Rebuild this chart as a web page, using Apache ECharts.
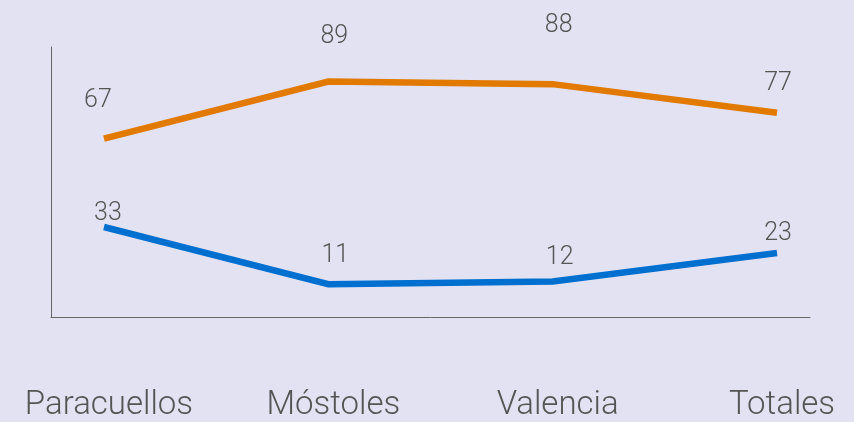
<!DOCTYPE html>
<html>
<head>
<meta charset="utf-8">
<script src="https://cdn.jsdelivr.net/npm/echarts@6/dist/echarts.min.js"></script>
<style>
  html, body { margin: 0; padding: 0; background: #e2e2f2; }
  #chart { width: 854px; height: 422px; }
</style>
</head>
<body>
<div id="chart"></div>
<script>
const categories = ['Paracuellos', 'Móstoles', 'Valencia', 'Totales']
const orangeValues = [67, 89, 88, 77]
const blueValues = [33, 11, 12, 23]

// where each value label sits relative to its point (px)
const orangeLabelOffsets = [[-6, -38], [6, -45], [6, -58], [1, -29]]
const blueLabelOffsets = [[4, -13], [7, -28], [7, -24], [1, -19]]

const font = 'Roboto, "Liberation Sans", sans-serif'

function buildData(values, offsets) {
    return values.map((v, i) => ({
        value: [i, v],
        label: { offset: offsets[i] }
    }))
}

function lineSeries(values, offsets, color) {
    return {
        type: 'line',
        symbol: 'circle',
        symbolSize: 0,
        data: buildData(values, offsets),
        lineStyle: { color: color, width: 6.5, cap: 'butt', join: 'miter' },
        itemStyle: { color: color },
        label: {
            show: true,
            position: 'inside',
            color: '#555',
            fontFamily: font,
            fontWeight: 300,
            fontSize: 25,
            formatter: p => p.value[1]
        },
        animation: false
    }
}

const chart = echarts.init(document.getElementById('chart'))

chart.setOption({
    backgroundColor: '#e2e2f2',
    grid: { left: 51, right: 44, top: 47, bottom: 104 },
    xAxis: {
        type: 'value',
        min: -0.236,
        max: 3.147,
        splitLine: { show: false },
        axisTick: { show: false },
        axisLine: { show: true, onZero: false, lineStyle: { color: '#666', width: 1 } },
        axisLabel: {
            customValues: [0, 1, 2, 3],
            formatter: v => categories[v],
            color: '#555',
            fontFamily: font,
            fontWeight: 300,
            fontSize: 33,
            lineHeight: 33,
            margin: 72,
            padding: [0, 0, 0, 10]
        }
    },
    yAxis: {
        type: 'value',
        min: -1.65,
        max: 102.3,
        splitLine: { show: false },
        axisTick: { show: false },
        axisLabel: { show: false },
        axisLine: { show: true, onZero: false, lineStyle: { color: '#666', width: 1 } }
    },
    series: [
        lineSeries(orangeValues, orangeLabelOffsets, '#e27a00'),
        lineSeries(blueValues, blueLabelOffsets, '#0070d0')
    ]
})
</script>
</body>
</html>
